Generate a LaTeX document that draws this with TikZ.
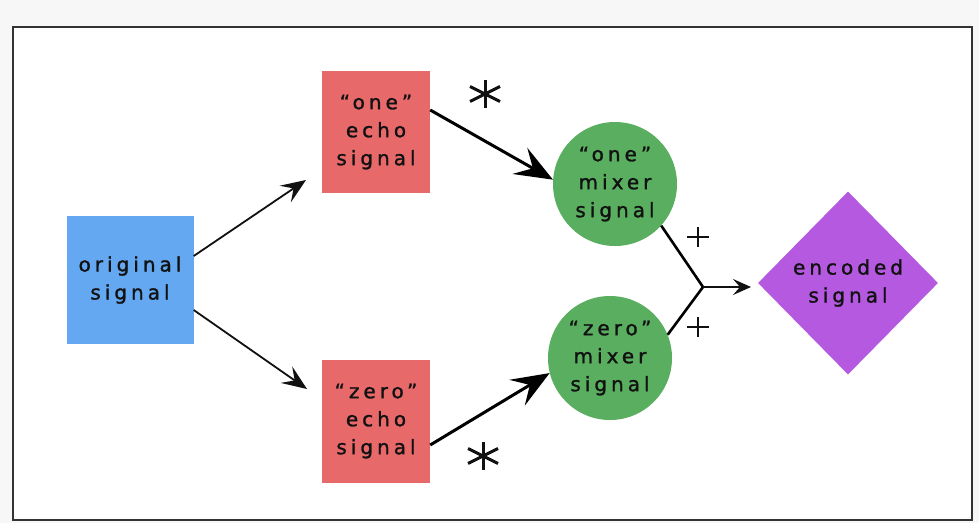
\documentclass[tikz,border=0pt]{standalone}
\usepackage{fontspec}
\setmainfont{DejaVu Sans}
\newfontfamily\labelfont[LetterSpace=20,FakeBold=1.3]{DejaVu Sans}
\usetikzlibrary{arrows.meta,shapes.geometric}
\definecolor{pagebg}{HTML}{F7F7F7}
\definecolor{framec}{HTML}{333333}
\definecolor{bluebox}{HTML}{63A8F0}
\definecolor{redbox}{HTML}{E8696A}
\definecolor{greenc}{HTML}{5AAE5F}
\definecolor{purpled}{HTML}{B55AE0}
\definecolor{inkc}{HTML}{111111}
\tikzset{
  x=1pt, y=-1pt,
  lbl/.style={font=\labelfont\fontsize{20}{28}\selectfont, text=inkc, align=center, inner sep=0pt},
  thinarr/.style={draw=inkc, line width=1.8pt, -{Stealth[length=25pt,width=20pt,inset=10pt]}},
  thickarr/.style={draw=black, line width=3pt, -{Stealth[length=38pt,width=30pt,inset=15pt]}},
  joinline/.style={draw=black, line width=2.6pt},
  starline/.style={draw=inkc, line width=3pt},
  plusline/.style={draw=inkc, line width=2.4pt}
}
\begin{document}
\begin{tikzpicture}
  % page and frame
  \fill[pagebg] (0,0) rectangle (979,523);
  \useasboundingbox (0,0) rectangle (979,523);
  \draw[framec, line width=2pt, fill=white] (13,27) rectangle (972,520);

  % nodes
  \node[lbl, fill=bluebox, minimum width=127pt, minimum height=128pt] (orig) at (130,280) {original\\signal};
  \node[lbl, fill=redbox, minimum width=108pt, minimum height=122pt] (oneecho) at (376,132) {“one”\\echo\\signal};
  \node[lbl, fill=redbox, minimum width=108pt, minimum height=123pt] (zeroecho) at (376,421) {“zero”\\echo\\signal};
  \node[lbl, circle, fill=greenc, minimum size=124pt] (onemix) at (615,184) {“one”\\mixer\\signal};
  \node[lbl, circle, fill=greenc, minimum size=124pt] (zeromix) at (610,358) {“zero”\\mixer\\signal};
  \node[lbl, diamond, fill=purpled, minimum width=180pt, minimum height=183pt, inner sep=0pt] (enc) at (848,283) {encoded\\signal};

  % free ends and the summing point
  \coordinate (splitA) at (306,180);
  \coordinate (splitB) at (307,389);
  \coordinate (sum) at (703,287);
  \coordinate (encin) at (751,287);

  % connectors
  \draw[thinarr] (orig.east |- 0,256) -- (splitA);
  \draw[thinarr] (orig.east |- 0,310) -- (splitB);
  \draw[thickarr] (oneecho.east |- 0,110) -- (onemix.176);
  \draw[thickarr] (zeroecho.east |- 0,445) -- (zeromix.194);
  \draw[joinline] (onemix.-42) -- (sum);
  \draw[joinline] (zeromix.22) -- (sum);
  \draw[thinarr, line width=2.2pt, -{Stealth[length=18pt,width=16pt,inset=7pt]}] (sum) -- (encin);

  % operator symbols: products on the echo paths, sums at the join
  \foreach \cx/\cy in {485/94, 483/456} {
    \draw[starline] (\cx,\cy-14) -- (\cx,\cy+14);
    \draw[starline] (\cx-15,\cy-7.5) -- (\cx+15,\cy+7.5);
    \draw[starline] (\cx-15,\cy+7.5) -- (\cx+15,\cy-7.5);
  }
  \foreach \cx/\cy in {698/237, 698/327} {
    \draw[plusline] (\cx-11,\cy) -- (\cx+11,\cy);
    \draw[plusline] (\cx,\cy-10) -- (\cx,\cy+10);
  }
\end{tikzpicture}
\end{document}
